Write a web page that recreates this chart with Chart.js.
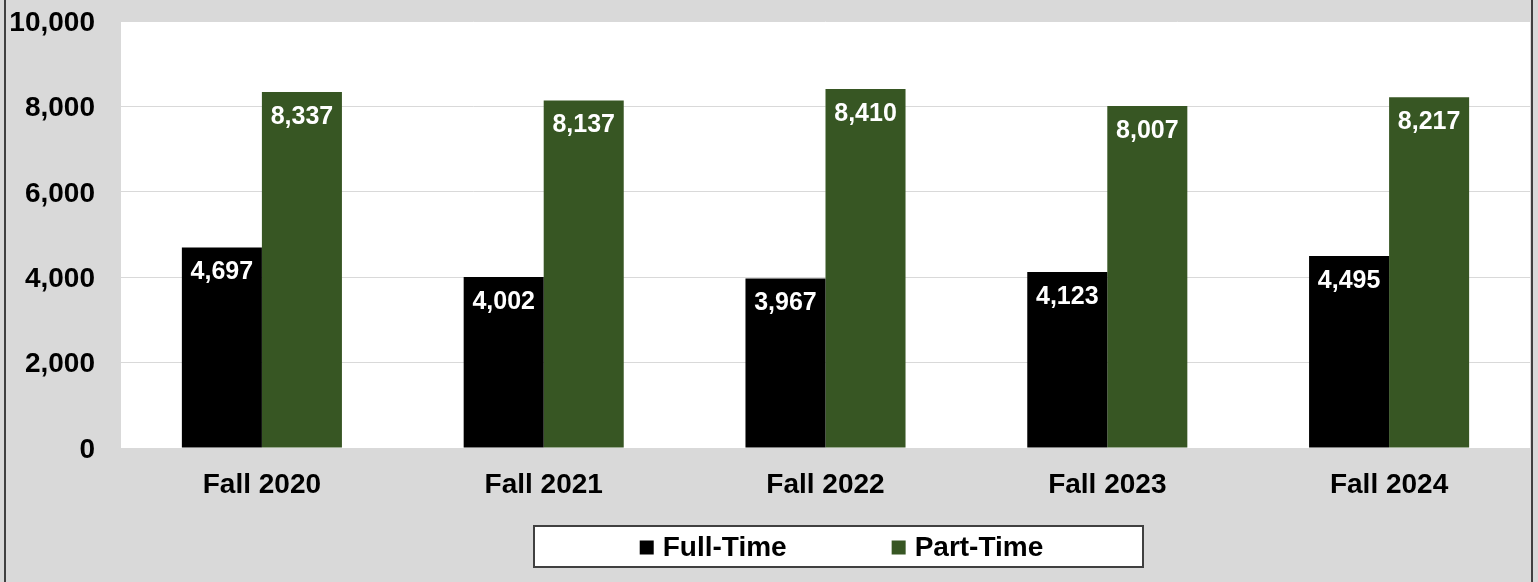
<!DOCTYPE html>
<html>
<head>
<meta charset="utf-8">
<script src="https://cdn.jsdelivr.net/npm/chart.js@4/dist/chart.umd.min.js"></script>
<style>
  html, body { margin: 0; padding: 0; background: #d9d9d9; }
  #wrap { position: relative; width: 1538px; height: 582px; }
  canvas { display: block; }
</style>
</head>
<body>
<div id="wrap"><canvas id="c" width="1538" height="582"></canvas></div>
<script>
const categories = ["Fall 2020", "Fall 2021", "Fall 2022", "Fall 2023", "Fall 2024"];
const fullTime = [4697, 4002, 3967, 4123, 4495];
const partTime = [8337, 8137, 8410, 8007, 8217];
const seriesNames = ["Full-Time", "Part-Time"];
const seriesColors = ["#000000", "#375623"];

const FONT = '"Liberation Sans", Arial, sans-serif';
const fmt = v => Number(v).toLocaleString('en-US');

const backgroundPlugin = {
  id: 'bg',
  beforeDraw(chart) {
    const ctx = chart.ctx;
    const a = chart.chartArea;
    ctx.save();
    ctx.fillStyle = '#d9d9d9';
    ctx.fillRect(0, 0, chart.width, chart.height);
    ctx.fillStyle = '#ffffff';
    ctx.fillRect(a.left, a.top, a.right - a.left, a.bottom - a.top);
    ctx.fillStyle = '#404040';
    ctx.fillRect(4, 0, 2, chart.height);
    ctx.fillRect(1531, 0, 2, chart.height);
    ctx.restore();
  }
};

const valueLabelPlugin = {
  id: 'valueLabels',
  afterDatasetsDraw(chart) {
    const ctx = chart.ctx;
    ctx.save();
    ctx.font = 'bold 25px ' + FONT;
    ctx.fillStyle = '#ffffff';
    ctx.textAlign = 'center';
    ctx.textBaseline = 'middle';
    chart.data.datasets.forEach((ds, i) => {
      const meta = chart.getDatasetMeta(i);
      meta.data.forEach((bar, j) => {
        ctx.fillText(fmt(ds.data[j]), bar.x, bar.y + 25);
      });
    });
    ctx.restore();
  }
};

const boxLegendPlugin = {
  id: 'boxLegend',
  afterDraw(chart) {
    const ctx = chart.ctx;
    const box = { left: 534, top: 526, right: 1143, bottom: 567 };
    ctx.save();
    ctx.fillStyle = '#ffffff';
    ctx.fillRect(box.left, box.top, box.right - box.left, box.bottom - box.top);
    ctx.strokeStyle = '#404040';
    ctx.lineWidth = 2;
    ctx.strokeRect(box.left, box.top, box.right - box.left, box.bottom - box.top);
    ctx.font = 'bold 28px ' + FONT;
    ctx.textBaseline = 'middle';
    ctx.textAlign = 'left';
    const sq = 14, gapText = 9, gapItem = 105;
    const items = chart.data.datasets.map(d => ({ label: d.label, color: d.backgroundColor, w: ctx.measureText(d.label).width }));
    let total = 0;
    items.forEach((it, i) => { total += sq + gapText + it.w + (i < items.length - 1 ? gapItem : 0); });
    const cy = (box.top + box.bottom) / 2 + 1;
    let x = (box.left + box.right) / 2 - total / 2 + 3;
    items.forEach(it => {
      ctx.fillStyle = it.color;
      ctx.fillRect(x, cy - sq / 2, sq, sq);
      x += sq + gapText;
      ctx.fillStyle = '#000000';
      ctx.fillText(it.label, x, cy + 1);
      x += it.w + gapItem;
    });
    ctx.restore();
  }
};

new Chart(document.getElementById('c'), {
  type: 'bar',
  data: {
    labels: categories,
    datasets: [
      { label: seriesNames[0], data: fullTime, backgroundColor: seriesColors[0], borderWidth: 0 },
      { label: seriesNames[1], data: partTime, backgroundColor: seriesColors[1], borderWidth: 0 }
    ]
  },
  options: {
    responsive: false,
    animation: false,
    devicePixelRatio: 1,
    layout: { padding: { top: 21, right: 8, bottom: 64, left: 0 } },
    datasets: { bar: { categoryPercentage: 0.568, barPercentage: 1.0 } },
    plugins: {
      legend: { display: false },
      tooltip: { enabled: false }
    },
    scales: {
      x: {
        grid: { display: false, drawTicks: false },
        border: { display: false },
        ticks: { color: '#000000', font: { family: FONT, size: 28, weight: 'bold' }, padding: 20, maxRotation: 0 },
        afterFit(scale) { scale.height = 70; }
      },
      y: {
        min: 0,
        max: 10000,
        grid: { color: '#d9d9d9', lineWidth: 1, drawTicks: false },
        border: { display: false },
        ticks: {
          stepSize: 2000,
          color: '#000000',
          font: { family: FONT, size: 28, weight: 'bold' },
          padding: 26,
          labelOffset: 2,
          callback: v => fmt(v)
        },
        afterFit(scale) {
          scale.width = 121;
          scale.paddingTop = 0;
          scale.paddingBottom = 0;
        }
      }
    }
  },
  plugins: [backgroundPlugin, valueLabelPlugin, boxLegendPlugin]
});
</script>
</body>
</html>
